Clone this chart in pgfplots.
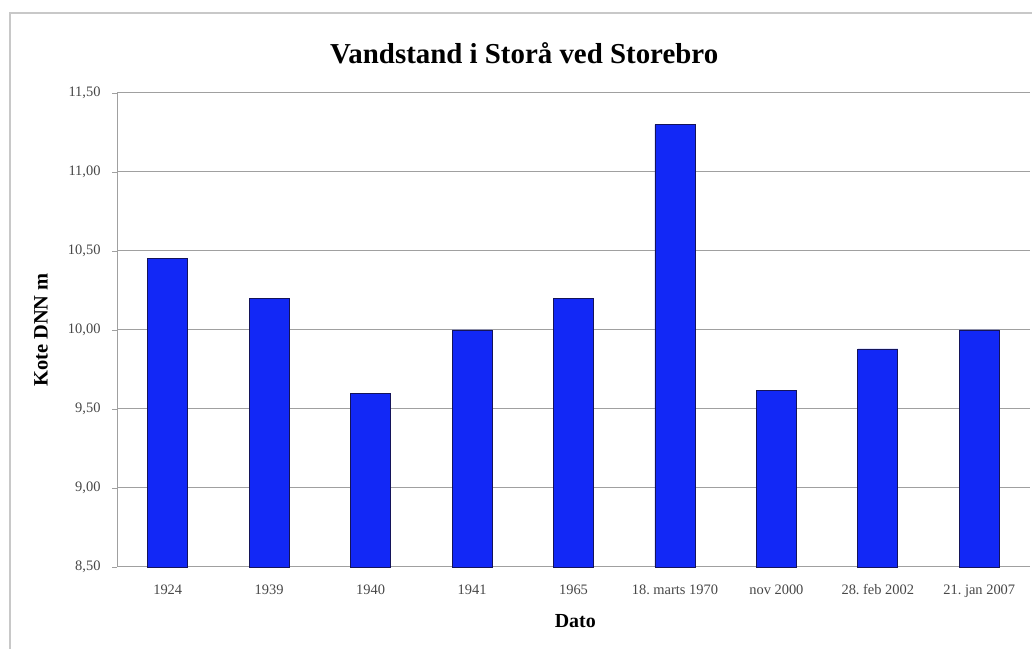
\documentclass[border=0pt]{standalone}
\usepackage{pgfplots}
\pgfplotsset{compat=1.18}
\usepackage{fontspec}
\setmainfont{Liberation Serif}
\frenchspacing

\definecolor{barblue}{RGB}{18,40,246}
\definecolor{baredge}{RGB}{20,20,90}
\definecolor{gridgray}{RGB}{160,160,160}
\definecolor{framegray}{RGB}{200,200,200}

\begin{document}
\begin{tikzpicture}[x=1bp,y=1bp]
  \useasboundingbox (0,0) rectangle (1032,649);
  % outer chart frame (left and top edges)
  \draw[framegray, line width=1.2bp] (10,-5) -- (10,636) -- (1040,636);

  \begin{axis}[
    at={(117bp,82bp)}, anchor=south west,
    scale only axis,
    width=913bp, height=474bp,
    xmin=-0.5, xmax=8.5,
    ymin=8.5, ymax=11.5,
    ytick={8.5,9,9.5,10,10.5,11,11.5},
    yticklabel style={/pgf/number format/fixed, /pgf/number format/fixed zerofill,
      /pgf/number format/precision=2, /pgf/number format/use comma},
    /pgf/number format/assume math mode=true,
    xtick={0,...,8},
    xticklabels={1924,1939,1940,1941,1965,{18.\ marts 1970},nov 2000,{28.\ feb 2002},{21.\ jan 2007}},
    extra x ticks={-0.5,0.5,...,8.5},
    extra x tick labels={},
    extra x tick style={major tick length=5bp, tick style={draw=gridgray, line width=0.8bp}, tick align=outside, grid=none},
    major x tick style={draw=none},
    ymajorgrids,
    major grid style={draw=gridgray, line width=1bp},
    ytick style={draw=gridgray, line width=0.8bp},
    major tick length=5bp,
    tick align=outside,
    axis line style={draw=gridgray, line width=1bp},
    axis x line*=bottom,
    axis y line*=left,
    ticklabel style={font=\fontsize{14.5}{16}\selectfont, text=black!72},
    xticklabel style={yshift=-9bp},
    yticklabel style={xshift=-8bp},
    ylabel={\textbf{Kote DNN m}},
    ylabel style={font=\fontsize{20.5}{22}\selectfont, at={(axis description cs:-0.0832,0.5)}, anchor=center},
    xlabel={\textbf{Dato}},
    xlabel style={font=\fontsize{20}{22}\selectfont, at={(axis description cs:0.502,-0.1139)}, anchor=center},
    title={\textbf{Vandstand i Storå ved Storebro}},
    title style={font=\fontsize{29}{32}\selectfont, at={(axis description cs:0.446,1.0717)}, anchor=center},
    ybar, bar width=40bp,
    clip=false,
  ]
    \addplot[fill=barblue, draw=baredge, line width=0.8bp] coordinates {
      (0,10.45) (1,10.20) (2,9.60) (3,10.00) (4,10.20)
      (5,11.30) (6,9.62) (7,9.88) (8,10.00)
    };
  \end{axis}
\end{tikzpicture}
\end{document}
